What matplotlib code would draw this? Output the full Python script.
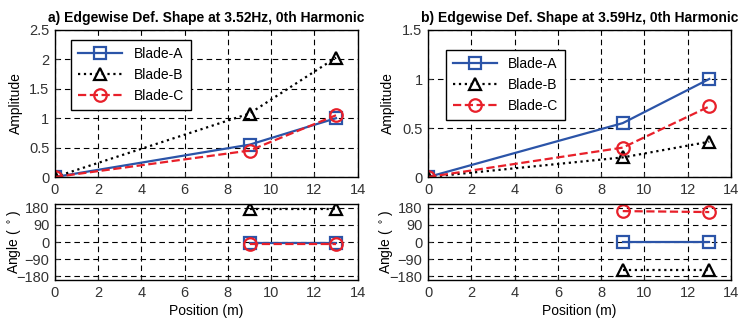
import matplotlib
matplotlib.use('Agg')
from matplotlib import pyplot as plt

plt.rcParams['font.family'] = ['Liberation Sans', 'DejaVu Sans']
plt.rcParams['font.size'] = 10

# positions along the blade (m)
pos = [0, 9, 13]
pos_ang = [9, 13]

# panel a) 3.52 Hz
amp_a = {'Blade-A': [0, 0.55, 1.0], 'Blade-B': [0, 1.08, 2.03], 'Blade-C': [0, 0.45, 1.05]}
ang_a = {'Blade-A': [-3, -3], 'Blade-B': [173, 173], 'Blade-C': [-8, -8]}
# panel b) 3.59 Hz
amp_b = {'Blade-A': [0, 0.55, 1.0], 'Blade-B': [0, 0.2, 0.36], 'Blade-C': [0, 0.3, 0.72]}
ang_b = {'Blade-A': [0, 0], 'Blade-B': [-145, -145], 'Blade-C': [163, 158]}

titles = ['a) Edgewise Def. Shape at 3.52Hz, 0th Harmonic',
          'b) Edgewise Def. Shape at 3.59Hz, 0th Harmonic']

styles = {'Blade-A': dict(color='#2b54a8', ls='-', marker='s'),
          'Blade-B': dict(color='black', ls=':', marker='^'),
          'Blade-C': dict(color='#e8202a', ls='--', marker='o')}

fig = plt.figure(figsize=(7.42, 3.26), dpi=100)

lefts = [0.074, 0.577]
amps = [amp_a, amp_b]
angs = [ang_a, ang_b]
ymax = [2.5, 1.5]
leg_anchor = [(0.03, 0.98), (0.035, 0.91)]
ylab_x = [-0.105, -0.11]

for i in range(2):
    ax1 = fig.add_axes([lefts[i], 0.457, 0.408, 0.451])
    ax2 = fig.add_axes([lefts[i], 0.141, 0.408, 0.233])
    for name, st in styles.items():
        ax1.plot(pos, amps[i][name], lw=1.6, ms=9, mfc='none', mew=1.6, label=name, **st)
        ax2.plot(pos_ang, angs[i][name], lw=1.6, ms=9, mfc='none', mew=1.6, **st)
    ax1.set_xlim(0, 14)
    ax1.set_ylim(0, ymax[i])
    ax1.set_xticks(range(0, 15, 2))
    n = int(ymax[i] / 0.5) + 1
    ax1.set_yticks([v * 0.5 for v in range(n)])
    ax1.set_yticklabels(['%g' % (v * 0.5) for v in range(n)])
    ax1.set_ylabel('Amplitude')
    ax1.yaxis.set_label_coords(ylab_x[i], 0.5)
    ax1.set_title(titles[i], fontsize=10, fontweight='bold', pad=6)
    leg = ax1.legend(loc='upper left', bbox_to_anchor=leg_anchor[i], fancybox=False,
                     edgecolor='black', framealpha=1, handlelength=3.2, fontsize=10,
                     borderpad=0.5, labelspacing=0.5)
    leg.get_frame().set_linewidth(1.0)

    ax2.set_xlim(0, 14)
    ax2.set_ylim(-200, 200)
    ax2.set_xticks(range(0, 15, 2))
    ax2.set_yticks([-180, -90, 0, 90, 180])
    ax2.set_ylabel('Angle ( $^\\circ$)')
    ax2.yaxis.set_label_coords(ylab_x[i], 0.5)
    ax2.set_xlabel('Position (m)', labelpad=3)
    for ax in (ax1, ax2):
        ax.grid(True, ls=(0, (5, 3.5)), color='black', lw=0.8)
        ax.tick_params(direction='in', length=3, labelsize=10.5, colors='#333333', pad=4)
        for s in ax.spines.values():
            s.set_linewidth(1.0)

fig.savefig('out.png', dpi=100)
